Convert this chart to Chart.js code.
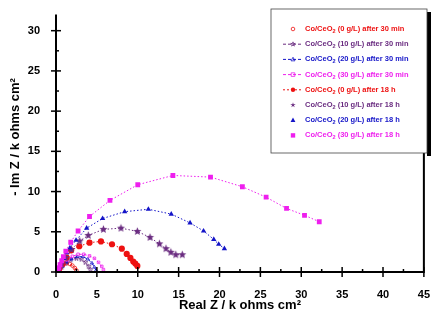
<!DOCTYPE html>
<html>
<head>
<meta charset="utf-8">
<script src="https://cdn.jsdelivr.net/npm/chart.js@4"></script>
<style>
  html, body { margin: 0; padding: 0; background: #fff; }
</style>
</head>
<body>
<canvas id="c" width="438" height="320"></canvas>
<script>
// Nyquist data, [Real Z, -Im Z] in k ohms cm2
const red30 = [[0.3,0.2],[0.6,0.6],[0.9,0.9],[1.3,1.1],[1.7,1.0],[2.0,0.8],[2.3,0.5],[2.5,0.2]];
const purple30 = [[0.3,0.2],[0.7,0.6],[1.2,1.1],[1.8,1.5],[2.5,1.7],[3.1,1.6],[3.6,1.2],[4.0,0.7],[4.2,0.3]];
const blue30 = [[0.4,0.2],[0.8,0.7],[1.3,1.2],[1.9,1.6],[2.6,1.9],[3.3,1.9],[3.9,1.6],[4.4,1.1],[4.7,0.6],[4.9,0.2]];
const magenta30 = [[0.5,0.3],[0.9,0.9],[1.4,1.5],[2.0,1.95],[2.7,2.2],[3.4,2.2],[4.1,2.0],[4.7,1.7],[5.2,1.2],[5.6,0.7],[5.8,0.3]];

const red18 = [[0.4,0.4],[0.8,1.0],[1.3,1.8],[1.85,2.7],[2.85,3.2],[4.1,3.65],[5.5,3.8],[6.85,3.45],[8.05,2.9],[8.65,2.25],[9.1,1.75],[9.45,1.3],[9.7,1.05],[9.95,0.75]];
const purple18 = [[0.3,0.3],[0.7,1.0],[1.2,1.8],[1.9,2.8],[2.9,3.85],[3.95,4.55],[5.8,5.3],[7.95,5.45],[9.95,5.05],[11.5,4.3],[12.65,3.5],[13.45,2.9],[14.05,2.45],[14.65,2.15],[15.45,2.15]];
const blue18 = [[0.2,0.3],[0.5,0.9],[0.9,1.7],[1.3,2.4],[1.7,3.0],[2.45,3.95],[3.75,5.45],[5.7,6.65],[8.4,7.5],[11.3,7.8],[14.1,7.2],[16.4,6.1],[18.05,5.1],[19.3,4.05],[19.9,3.45],[20.6,2.9]];
const magenta18 = [[0.2,0.2],[0.35,0.5],[0.5,0.9],[0.7,1.4],[0.9,1.9],[1.2,2.6],[1.8,3.7],[2.7,5.1],[4.1,6.9],[6.6,8.9],[10.0,10.85],[14.3,12.0],[18.9,11.8],[22.8,10.6],[25.7,9.3],[28.2,7.9],[30.4,7.05],[32.2,6.25]];

// legend text: "Co/CeO" + subscript 2 + rest
const loadings = ['(0 g/L)', '(10 g/L)', '(20 g/L)', '(30 g/L)', '(0 g/L)', '(10 g/L)', '(20 g/L)', '(30 g/L)'];
const times = ['after 30 min', 'after 30 min', 'after 30 min', 'after 30 min', 'after 18 h', 'after 18 h', 'after 18 h', 'after 18 h'];
const seriesLabels = loadings.map((l, i) => `Co/CeO\u2082 ${l} ${times[i]}`);
const seriesData = [red30, purple30, blue30, magenta30, red18, purple18, blue18, magenta18];

const RED = '#ee1111', PURPLE = '#6a2c80', BLUE = '#1414c8', MAGENTA = '#ee1fee';
const colors = [RED, PURPLE, BLUE, MAGENTA, RED, PURPLE, BLUE, MAGENTA];
const shapes = ['circle', 'star', 'triangle', 'rect', 'circle', 'star', 'triangle', 'rect'];
const FONT = '"Liberation Sans", Arial, sans-serif';

// 5-point star as canvas image (Chart.js 'star' is an asterisk)
function starImg(color, r, fill) {
  const s = Math.ceil(r * 2 + 2);
  const c = document.createElement('canvas');
  c.width = c.height = s;
  const g = c.getContext('2d');
  g.beginPath();
  for (let i = 0; i < 10; i++) {
    const rr = i % 2 ? r * 0.45 : r;
    const a = -Math.PI / 2 + i * Math.PI / 5;
    g.lineTo(s / 2 + rr * Math.cos(a), s / 2 + rr * Math.sin(a));
  }
  g.closePath();
  if (fill) { g.fillStyle = color; g.fill(); }
  else { g.strokeStyle = color; g.lineWidth = 0.8; g.stroke(); }
  return c;
}

const datasets = seriesData.map((pts, i) => {
  const open = i < 4;
  const shape = shapes[i] === 'star' ? starImg(colors[i], open ? 2.5 : 4.2, !open) : shapes[i];
  return {
    label: seriesLabels[i],
    data: pts.map(p => ({ x: p[0], y: p[1] })),
    showLine: true,
    borderColor: colors[i],
    borderWidth: 1,
    borderDash: open ? [3, 2] : [1.5, 2],
    pointStyle: shape,
    pointRadius: open ? 1.8 : (shapes[i] === 'rect' ? 3.4 : 3.1),
    pointBorderWidth: open ? 0.8 : 0,
    pointBorderColor: colors[i],
    pointBackgroundColor: open ? 'rgba(255,255,255,0)' : colors[i],
    order: 8 - i,
  };
});

function drawMarker(ctx, shape, x, y, r, color, open) {
  ctx.save();
  ctx.fillStyle = color;
  ctx.strokeStyle = color;
  ctx.lineWidth = 0.8;
  ctx.setLineDash([]);
  ctx.beginPath();
  if (shape === 'circle') ctx.arc(x, y, r, 0, Math.PI * 2);
  else if (shape === 'rect') ctx.rect(x - r, y - r, 2 * r, 2 * r);
  else if (shape === 'triangle') { ctx.moveTo(x, y - r * 1.2); ctx.lineTo(x + r * 1.1, y + r * 0.8); ctx.lineTo(x - r * 1.1, y + r * 0.8); ctx.closePath(); }
  else if (shape === 'star') {
    for (let i = 0; i < 10; i++) {
      const rr = i % 2 ? r * 0.45 : r * 1.3;
      const a = -Math.PI / 2 + i * Math.PI / 5;
      ctx.lineTo(x + rr * Math.cos(a), y + rr * Math.sin(a));
    }
    ctx.closePath();
  }
  if (open) ctx.stroke(); else ctx.fill();
  ctx.restore();
}

const frame = {
  id: 'frame',
  afterDraw(chart) {
    const { ctx, chartArea: a, scales: { x, y } } = chart;
    ctx.save();
    ctx.strokeStyle = '#000';
    ctx.lineWidth = 2;
    ctx.beginPath();
    ctx.moveTo(a.left, a.top); ctx.lineTo(a.left, a.bottom);
    ctx.lineTo(a.right, a.bottom); ctx.lineTo(a.right, a.top);
    ctx.stroke();
    ctx.lineWidth = 1.5;
    for (let v = 0; v <= 45; v += 2.5) {
      const px = x.getPixelForValue(v);
      ctx.beginPath();
      if (v % 5 === 0) { ctx.moveTo(px, a.bottom - 5); ctx.lineTo(px, a.bottom + 5); }
      else { ctx.moveTo(px, a.bottom - 3); ctx.lineTo(px, a.bottom); }
      ctx.stroke();
    }
    for (let v = 0; v <= 32; v += 2.5) {
      const py = y.getPixelForValue(v);
      ctx.beginPath();
      if (v % 5 === 0) { ctx.moveTo(a.left - 5, py); ctx.lineTo(a.left + 5, py); }
      else { ctx.moveTo(a.left, py); ctx.lineTo(a.left + 3, py); }
      ctx.stroke();
    }
    // axis titles
    ctx.fillStyle = '#000';
    ctx.font = `bold 13px ${FONT}`;
    ctx.textAlign = 'center';
    ctx.textBaseline = 'middle';
    ctx.fillText('Real Z / k ohms cm\u00b2', (a.left + a.right) / 2, 305);
    ctx.save();
    ctx.translate(15, 137);
    ctx.rotate(-Math.PI / 2);
    ctx.fillText('- Im Z / k ohms cm\u00b2', 0, 0);
    ctx.restore();

    // legend box
    const bx = 271, by = 9, bw = 156, bh = 144;
    ctx.fillStyle = '#000';
    ctx.fillRect(bx + bw, by + 3, 4, bh);
    ctx.fillStyle = '#fff';
    ctx.fillRect(bx, by, bw, bh);
    ctx.strokeStyle = '#444';
    ctx.lineWidth = 0.8;
    ctx.strokeRect(bx, by, bw, bh);
    ctx.textAlign = 'left';
    seriesLabels.forEach((lab, i) => {
      const ly = 29 + i * 15.2;
      const open = i < 4;
      if (i >= 1 && i <= 4) {
        ctx.save();
        ctx.strokeStyle = colors[i];
        ctx.lineWidth = 1;
        ctx.setLineDash(open ? [3, 2] : [2, 2]);
        ctx.beginPath(); ctx.moveTo(283, ly); ctx.lineTo(303, ly); ctx.stroke();
        ctx.restore();
      }
      drawMarker(ctx, shapes[i], 293, ly, open ? 1.8 : 2.2, colors[i], open);
      ctx.fillStyle = colors[i];
      const [head, tail] = lab.split('\u2082');
      let tx = 305;
      ctx.font = `bold 7.5px ${FONT}`;
      ctx.fillText(head, tx, ly);
      tx += ctx.measureText(head).width;
      ctx.font = `bold 5.5px ${FONT}`;
      ctx.fillText('2', tx, ly + 2.5);
      tx += ctx.measureText('2').width;
      ctx.font = `bold 7.5px ${FONT}`;
      ctx.fillText(tail, tx, ly);
    });
    ctx.restore();
  }
};

new Chart(document.getElementById('c'), {
  type: 'scatter',
  data: { datasets },
  options: {
    responsive: false,
    animation: false,
    devicePixelRatio: 1,
    layout: { padding: { top: 6, right: 7, left: 0, bottom: 0 } },
    plugins: { legend: { display: false }, tooltip: { enabled: false } },
    scales: {
      x: {
        type: 'linear', min: 0, max: 45,
        grid: { display: false }, border: { display: false },
        ticks: { stepSize: 5, color: '#000', padding: 8, maxRotation: 0,
          font: { family: FONT, size: 11, weight: 'bold' } },
        afterFit: s => { s.height = 48; }
      },
      y: {
        type: 'linear', min: 0, max: 32,
        grid: { display: false }, border: { display: false },
        ticks: { stepSize: 5, color: '#000', padding: 8,
          callback: v => (v % 5 === 0 ? v : ''),
          font: { family: FONT, size: 11, weight: 'bold' } },
        afterFit: s => { s.width = 56; }
      }
    }
  },
  plugins: [frame]
});
</script>
</body>
</html>
